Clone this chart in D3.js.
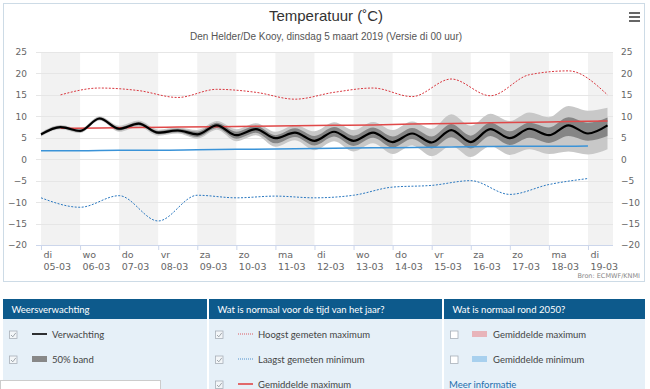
<!DOCTYPE html>
<html>
<head>
<meta charset="utf-8">
<script src="https://cdn.jsdelivr.net/npm/d3@7"></script>
<style>
  body { margin: 0; background: #fff; }
  svg { display: block; }
  text { font-family: "DejaVu Sans", sans-serif; }
  .legend text { font-family: Lato, "Open Sans", sans-serif; }
</style>
</head>
<body>
<svg id="chart" width="650" height="389"></svg>
<script>
// x axis labels, one per day starting di 05-03
const dayNames = ["di", "wo", "do", "vr", "za", "zo", "ma", "di", "wo", "do", "vr", "za", "zo", "ma", "di"];
const dates = ["05-03", "06-03", "07-03", "08-03", "09-03", "10-03", "11-03", "12-03",
               "13-03", "14-03", "15-03", "16-03", "17-03", "18-03", "19-03"];
const yTicks = [-20, -15, -10, -5, 0, 5, 10, 15, 20, 25];

// forecast, every 12 hours from 05-03 00 uur
const forecast = [5.8, 7.5, 6.6, 9.5, 7.1, 8.3, 6.2, 6.7, 5.8, 7.9, 5.6, 7.0, 4.9, 6.2, 4.3,
                  6.4, 4.3, 6.2, 4.0, 6.0, 3.9, 6.8, 4.0, 7.0, 4.9, 7.1, 5.6, 7.9, 6.0, 7.9];
const band50Low = [5.5, 7.2, 6.3, 9.2, 6.7, 7.9, 5.8, 6.3, 5.2, 7.3, 4.8, 6.2, 3.7, 5.2, 3.2,
                   5.3, 3.1, 5.0, 2.7, 4.7, 2.5, 5.1, 2.5, 5.4, 3.3, 5.0, 3.8, 5.4, 4.3, 5.4];
const band50High = [6.1, 7.8, 6.9, 9.8, 7.5, 8.7, 6.6, 7.1, 6.4, 8.5, 6.4, 7.8, 5.6, 7.2, 5.4,
                    7.5, 5.5, 7.4, 5.3, 7.3, 5.3, 8.2, 5.5, 8.5, 6.5, 8.5, 7.4, 9.8, 8.5, 9.7];
const bandLow = [5.3, 7.0, 6.1, 9.0, 6.4, 7.6, 5.5, 6.0, 4.8, 6.9, 4.2, 5.6, 2.9, 4.4, 2.1,
                 4.2, 1.8, 3.7, 1.2, 3.2, 0.7, 3.1, 0.5, 3.0, 1.0, 2.3, 1.2, 1.8, 1.1, 2.3];
const bandHigh = [6.3, 8.0, 7.1, 10.0, 7.8, 9.0, 6.9, 7.4, 6.8, 8.9, 7.0, 8.4, 6.4, 8.0, 6.5,
                  8.6, 6.8, 8.7, 6.8, 8.8, 7.1, 10.5, 7.8, 10.6, 8.9, 10.9, 9.8, 12.4, 11.3, 12.0];

// climate: maxima at 12 uur (05-03 .. 19-03), minima at 00 uur
const recordMax = [15.0, 16.6, 16.0, 14.4, 16.3, 15.6, 14.0, 15.6, 16.6, 14.6, 18.7, 14.8, 19.7, 20.6, 15.0];
const recordMin = [-9.0, -11.2, -8.5, -14.4, -8.4, -9.0, -8.6, -9.0, -8.4, -6.5, -6.1, -5.0, -8.2, -5.9, -4.5];
const meanMax = [7.2, 7.3, 7.4, 7.5, 7.6, 7.7, 7.8, 7.9, 8.0, 8.2, 8.3, 8.5, 8.6, 8.8, 8.9];
const meanMin = [2.0, 2.0, 2.1, 2.1, 2.2, 2.3, 2.4, 2.5, 2.6, 2.7, 2.8, 2.9, 3.0, 3.0, 3.1];

const svg = d3.select("#chart");
const plot = {left: 36, right: 613, top: 52, bottom: 245};

// days since 05-03 00 uur
let x = d3.scaleLinear().domain([0, 14.5]).range([41, 607.5]);
let y = d3.scaleLinear().domain([-20, 25]).range([plot.bottom, plot.top]);

// chart frame
svg.append("rect")
    .attr("x", 3.5).attr("y", 3.5).attr("width", 641).attr("height", 278)
    .attr("fill", "#fff").attr("stroke", "#cddbe6");

svg.append("text")
    .attr("x", 326).attr("y", 21)
    .attr("text-anchor", "middle")
    .style("font-family", "'Liberation Sans', sans-serif")
    .attr("font-size", 15).attr("fill", "#333")
    .text("Temperatuur (\u02DAC)");

svg.append("text")
    .attr("x", 326).attr("y", 40)
    .attr("text-anchor", "middle")
    .style("font-family", "'Liberation Sans', sans-serif")
    .attr("font-size", 10).attr("fill", "#555")
    .text("Den Helder/De Kooy, dinsdag 5 maart 2019 (Versie di 00 uur)");

// menu icon
svg.append("g").selectAll("rect")
    .data([0, 1, 2])
    .join("rect")
    .attr("x", 629).attr("y", d => 12 + d * 4)
    .attr("width", 11).attr("height", 2)
    .attr("fill", "#666");

svg.append("clipPath").attr("id", "plotClip")
    .append("rect")
    .attr("x", plot.left).attr("y", plot.top)
    .attr("width", plot.right - plot.left).attr("height", plot.bottom - plot.top);

// alternating day shading
svg.append("g").attr("clip-path", "url(#plotClip)")
    .selectAll("rect")
    .data(d3.range(0, dates.length, 2))
    .join("rect")
    .attr("x", d => x(d))
    .attr("y", plot.top)
    .attr("width", d => x(d + 1) - x(d))
    .attr("height", plot.bottom - plot.top)
    .attr("fill", "#f2f2f2");

// gridlines
svg.append("g").selectAll("line")
    .data(yTicks)
    .join("line")
    .attr("x1", plot.left).attr("x2", plot.right)
    .attr("y1", d => Math.round(y(d)) + 0.5).attr("y2", d => Math.round(y(d)) + 0.5)
    .attr("stroke", d => d === -20 ? "#ccd6eb" : "#e6e6e6");

// y labels both sides
svg.append("g")
    .attr("transform", "translate(27,0)")
    .call(d3.axisLeft(y).tickValues(yTicks).tickSize(0).tickPadding(0))
    .call(g => g.select(".domain").remove());
svg.append("g")
    .attr("transform", "translate(621,0)")
    .call(d3.axisRight(y).tickValues(yTicks).tickSize(0).tickPadding(0))
    .call(g => g.select(".domain").remove());
svg.selectAll(".tick text")
    .attr("fill", "#666").attr("font-size", 9)
    .style("font-family", "'DejaVu Sans', sans-serif");

// x axis ticks and two-line labels
let xAxis = svg.append("g")
    .attr("transform", "translate(0," + plot.bottom + ")")
    .call(d3.axisBottom(x).tickValues(d3.range(dates.length)).tickSize(5).tickFormat(""));
xAxis.select(".domain").remove();
xAxis.selectAll(".tick line").attr("stroke", "#ccd6eb");
xAxis.selectAll(".tick text").remove();
let xLabel = xAxis.selectAll(".tick").append("text")
    .attr("text-anchor", "start")
    .attr("fill", "#666")
    .attr("font-size", 9.5)
    .attr("x", 2);
xLabel.append("tspan").attr("x", 2).attr("y", 13).text((d, i) => dayNames[i]);
xLabel.append("tspan").attr("x", 2).attr("y", 25).text((d, i) => dates[i]);

svg.append("text")
    .attr("x", 640).attr("y", 278)
    .attr("text-anchor", "end")
    .attr("font-size", 6.5).attr("fill", "#888")
    .text("Bron: ECMWF/KNMI");

// series
let lines = svg.append("g").attr("clip-path", "url(#plotClip)");
const curve = d3.curveMonotoneX;
const fcTime = (d, i) => x(i * 0.5);

lines.append("path")
    .attr("d", d3.area().curve(curve).x(fcTime)
        .y0((d, i) => y(bandLow[i])).y1((d, i) => y(bandHigh[i]))(forecast))
    .attr("fill", "#c8c8c8");

lines.append("path")
    .attr("d", d3.area().curve(curve).x(fcTime)
        .y0((d, i) => y(band50Low[i])).y1((d, i) => y(band50High[i]))(forecast))
    .attr("fill", "#858585");

lines.append("path")
    .attr("d", d3.line().curve(curve).x((d, i) => x(i + 0.5)).y(d => y(d))(recordMax))
    .attr("fill", "none").attr("stroke", "#d9363e").attr("stroke-width", 1)
    .attr("stroke-dasharray", "2,1.5");

lines.append("path")
    .attr("d", d3.line().curve(curve).x((d, i) => x(i)).y(d => y(d))(recordMin))
    .attr("fill", "none").attr("stroke", "#2a78c0").attr("stroke-width", 1)
    .attr("stroke-dasharray", "2,1.5");

lines.append("path")
    .attr("d", d3.line().curve(curve).x((d, i) => x(i + 0.5)).y(d => y(d))(meanMax))
    .attr("fill", "none").attr("stroke", "#e04848").attr("stroke-width", 1.5);

lines.append("path")
    .attr("d", d3.line().curve(curve).x((d, i) => x(i)).y(d => y(d))(meanMin))
    .attr("fill", "none").attr("stroke", "#3a93d8").attr("stroke-width", 1.5);

lines.append("path")
    .attr("d", d3.line().curve(curve).x(fcTime).y(d => y(d))(forecast))
    .attr("fill", "none").attr("stroke", "#000").attr("stroke-width", 2.2);

// legend panels below the chart
const panels = [
    {x: 3, w: 204, title: "Weersverwachting"},
    {x: 209, w: 233, title: "Wat is normaal voor de tijd van het jaar?"},
    {x: 444, w: 201, title: "Wat is normaal rond 2050?"}
];
const legendRows = [
    {panel: 0, row: 0, label: "Verwachting", icon: "line", color: "#000", checked: true},
    {panel: 0, row: 1, label: "50% band", icon: "rect", color: "#888", checked: true},
    {panel: 1, row: 0, label: "Hoogst gemeten maximum", icon: "dot", color: "#d9363e", checked: true},
    {panel: 1, row: 1, label: "Laagst gemeten minimum", icon: "dot", color: "#2a78c0", checked: true},
    {panel: 1, row: 2, label: "Gemiddelde maximum", icon: "line", color: "#e04848", checked: true},
    {panel: 2, row: 0, label: "Gemiddelde maximum", icon: "rect", color: "#e8b4ba", checked: false},
    {panel: 2, row: 1, label: "Gemiddelde minimum", icon: "rect", color: "#a8d0ee", checked: false}
];

let legend = svg.append("g").attr("class", "legend");
let panel = legend.selectAll("g.panel")
    .data(panels)
    .join("g").attr("class", "panel");
panel.append("rect")
    .attr("x", d => d.x).attr("y", 319).attr("width", d => d.w).attr("height", 70)
    .attr("fill", "#e6f0f8");
panel.append("rect")
    .attr("x", d => d.x).attr("y", 299).attr("width", d => d.w).attr("height", 20)
    .attr("fill", "#0d5a8c");
panel.append("text")
    .attr("x", d => d.x + 8.5).attr("y", 312.5)
    .attr("font-size", 9.5).attr("fill", "#fff")
    .text(d => d.title);

let row = legend.selectAll("g.row")
    .data(legendRows)
    .join("g").attr("class", "row")
    .attr("transform", d => "translate(" + (panels[d.panel].x + 6) + "," + (334.5 + d.row * 25) + ")");
row.append("rect")
    .attr("x", 0.5).attr("y", -3.5).attr("width", 7.5).attr("height", 7.5)
    .attr("fill", d => d.checked ? "#f3f6f8" : "#fff")
    .attr("stroke", "#a8b0b8").attr("stroke-width", 0.8);
row.filter(d => d.checked).append("path")
    .attr("d", "M2,0.5 L3.8,2.3 L6.8,-1.6")
    .attr("fill", "none").attr("stroke", "#8a9299").attr("stroke-width", 0.8);
row.filter(d => d.icon === "line").append("line")
    .attr("x1", 23).attr("x2", 38).attr("y1", -0.5).attr("y2", -0.5)
    .attr("stroke", d => d.color).attr("stroke-width", 1.6);
row.filter(d => d.icon === "dot").append("line")
    .attr("x1", 23).attr("x2", 38).attr("y1", -0.5).attr("y2", -0.5)
    .attr("stroke", d => d.color).attr("stroke-width", 0.8).attr("stroke-dasharray", "1,1");
row.filter(d => d.icon === "rect").append("rect")
    .attr("x", d => d.panel === 2 ? 22 : 23).attr("y", -3.5).attr("width", 15).attr("height", 6)
    .attr("fill", d => d.color);
row.append("text")
    .attr("x", 43).attr("y", 3.3)
    .attr("font-size", 9.5).attr("fill", "#444")
    .text(d => d.label);

legend.append("text")
    .attr("x", 449).attr("y", 387.8)
    .attr("font-size", 9.5).attr("fill", "#1f6fae")
    .text("Meer informatie");

// partly visible popup at the bottom left
legend.append("rect")
    .attr("x", 0.5).attr("y", 380.5).attr("width", 160).attr("height", 12)
    .attr("fill", "#fff").attr("stroke", "#ccc");
</script>
</body>
</html>
